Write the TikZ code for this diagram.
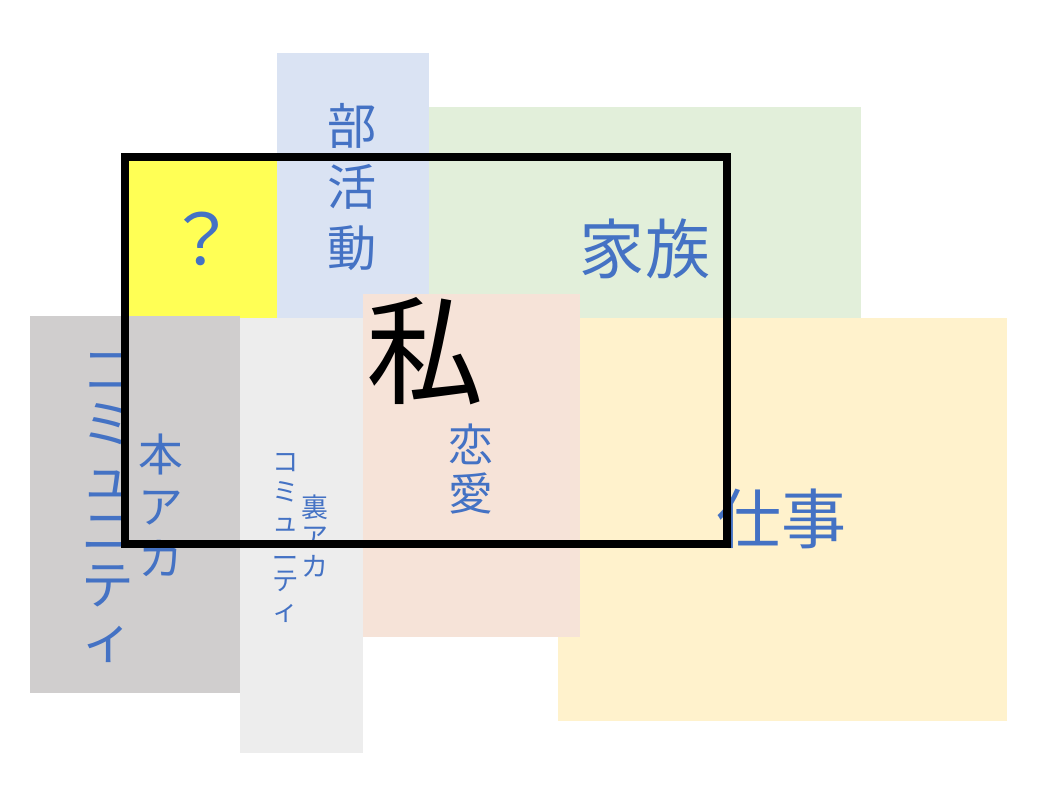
\documentclass[tikz,border=0pt]{standalone}
\usepackage{fontspec}
\setmainfont{Noto Sans CJK JP}
\definecolor{txtblue}{HTML}{4472C4}
\definecolor{boxblue}{HTML}{DAE3F3}
\definecolor{boxgreen}{HTML}{E2EFDA}
\definecolor{boxyellow}{HTML}{FFFF55}
\definecolor{boxgray}{HTML}{D0CECE}
\definecolor{boxlight}{HTML}{EDEDED}
\definecolor{boxpeach}{HTML}{F6E3D8}
\definecolor{boxgold}{HTML}{FFF2CC}
\tikzset{
  lbl/.style={inner sep=0pt, align=center, text=txtblue},
}

\begin{document}
\begin{tikzpicture}[x=0.02cm, y=-0.02cm]
\useasboundingbox (0,0) rectangle (1045,800);

\fill [boxblue] (277,53) rectangle (429,318);
\fill [boxgreen] (429,107) rectangle (861,318);
\fill [boxyellow] (128,158) rectangle (277,319);
\fill [boxgray] (30,316) rectangle (240,693);
\fill [boxlight] (240,318) rectangle (363,753);
\fill [boxgold] (558,318) rectangle (1007,721);
\fill [boxpeach] (363,294) rectangle (580,637);

\node [lbl, font=\fontsize{40}{40}\selectfont] (q) at (202,239) {？};
\node [lbl, font=\fontsize{28}{34.5}\selectfont] (bukatsu) at (352,187) {部\\活\\動};
\node [lbl, font=\fontsize{37}{37}\selectfont] (kazoku) at (645,249) {家族};
\node [inner sep=0pt, font=\fontsize{67}{67}\selectfont] (watashi) at (425,351) {私};
\node [lbl, font=\fontsize{25.5}{28.3}\selectfont] (renai) at (471,469) {恋\\愛};
\node [lbl, font=\fontsize{37}{37}\selectfont] (shigoto) at (781,519) {仕事};

\node [lbl, font=\fontsize{30}{30.6}\selectfont] (comm) at (108,508) {コ\\ミ\\ュ\\ニ\\テ\\ィ};
\node [lbl, font=\fontsize{25.5}{29.5}\selectfont] (honaka) at (161,505) {本\\ア\\カ};
\node [lbl, font=\fontsize{15}{17}\selectfont] (uracomm) at (286,538) {コ\\ミ\\ュ\\ニ\\テ\\ィ};
\node [lbl, font=\fontsize{15.3}{17}\selectfont] (uraaka) at (315,536) {裏\\ア\\カ};

\draw [line width=4pt] (125,157) rectangle (727,544);

\end{tikzpicture}
\end{document}
